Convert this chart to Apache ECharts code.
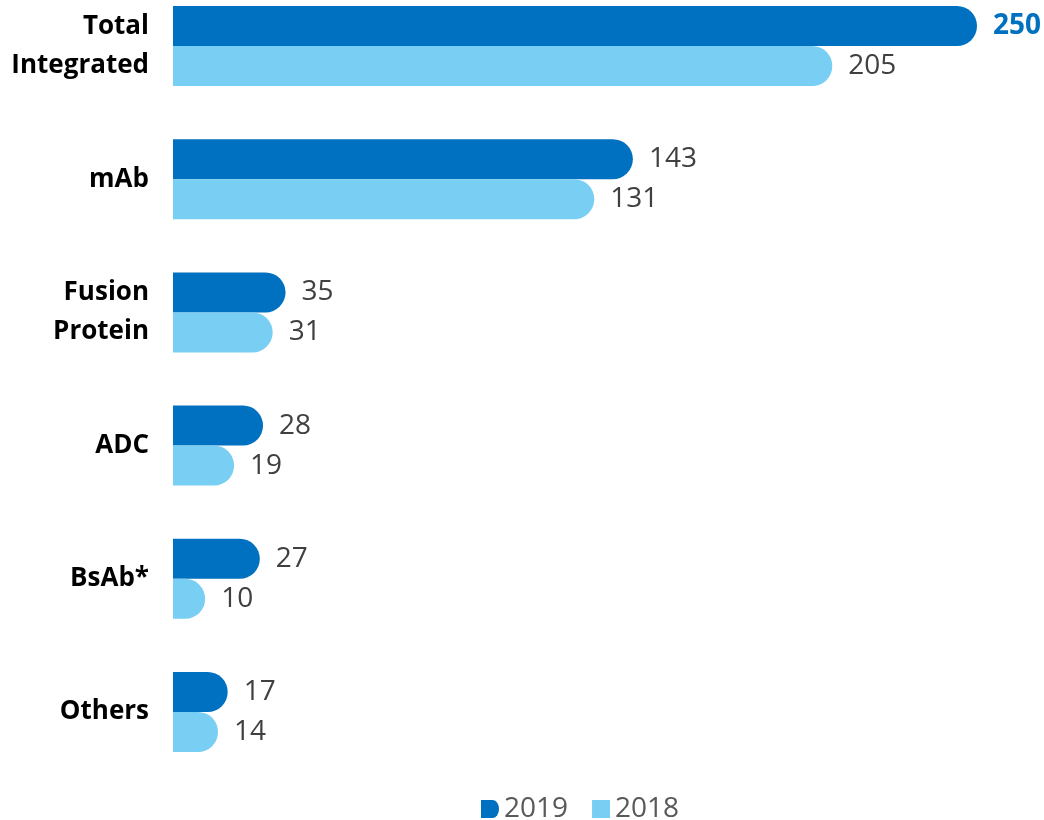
<!DOCTYPE html>
<html>
<head>
<meta charset="utf-8">
<script src="https://cdn.jsdelivr.net/npm/echarts@6/dist/echarts.min.js"></script>
<style>
  html, body { margin: 0; padding: 0; background: #ffffff; }
  #chart { width: 1044px; height: 820px; }
</style>
</head>
<body>
<div id="chart"></div>
<script>
// Pipeline counts by modality, 2019 vs 2018
const categories = ['Total\nIntegrated', 'mAb', 'Fusion\nProtein', 'ADC', 'BsAb*', 'Others'];
const values2019 = [250, 143, 35, 28, 27, 17];
const values2018 = [205, 131, 31, 19, 10, 14];
const seriesNames = ['2019', '2018'];

const DARK = '#0070C0';
const LIGHT = '#78CFF3';
const LABEL_FONT = '"Open Sans", "Noto Sans", sans-serif';

const chart = echarts.init(document.getElementById('chart'));

function valueLabel(highlightFirst) {
  return {
    show: true,
    position: 'right',
    distance: 16,
    fontFamily: LABEL_FONT,
    fontSize: 28,
    color: '#404040',
    formatter: function (p) {
      return (highlightFirst && p.dataIndex === 0) ? '{hl|' + p.value + '}' : String(p.value);
    },
    rich: {
      hl: { fontFamily: LABEL_FONT, fontSize: 28, fontWeight: 'bold', color: DARK }
    }
  };
}

chart.setOption({
  animation: false,
  backgroundColor: '#ffffff',
  // category ticks sit on the grid edges, so the first and last groups are centred on top/bottom
  grid: { left: 173, top: 46, width: 804, height: 666, containLabel: false },
  xAxis: {
    type: 'value',
    min: 0,
    max: 250,
    show: false
  },
  yAxis: {
    type: 'category',
    data: categories,
    inverse: true,
    boundaryGap: false,
    axisLine: { show: false },
    axisTick: { show: false },
    splitLine: { show: false },
    axisLabel: {
      margin: 24,
      fontFamily: LABEL_FONT,
      fontWeight: 'bold',
      fontSize: 26,
      lineHeight: 39,
      color: '#000000',
      align: 'right'
    }
  },
  legend: {
    top: 790,
    left: 476,
    itemWidth: 18,
    itemHeight: 18,
    itemGap: 24,
    textStyle: { fontFamily: LABEL_FONT, fontSize: 28, color: '#595959' },
    data: [
      { name: seriesNames[0], icon: 'path://M0,0 L12,0 A6,9 0 0 1 12,18 L0,18 Z' },
      { name: seriesNames[1], icon: 'rect' }
    ]
  },
  series: [
    {
      name: seriesNames[0],
      type: 'bar',
      data: values2019,
      barWidth: 40,
      barGap: '0%',
      itemStyle: { color: DARK, borderRadius: [0, 20, 20, 0] },
      label: valueLabel(true)
    },
    {
      name: seriesNames[1],
      type: 'bar',
      data: values2018,
      barWidth: 40,
      barGap: '0%',
      itemStyle: { color: LIGHT, borderRadius: [0, 20, 20, 0] },
      label: valueLabel(false)
    }
  ]
});
</script>
</body>
</html>
